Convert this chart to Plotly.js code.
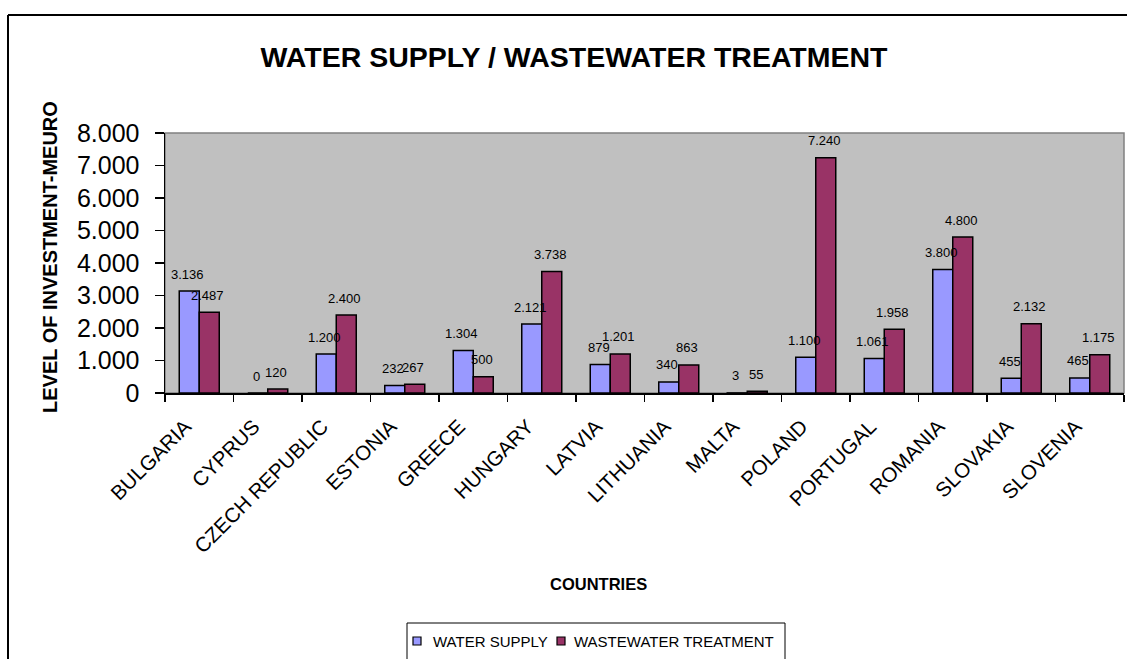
<!DOCTYPE html>
<html>
<head>
<meta charset="utf-8">
<script src="https://cdn.plot.ly/plotly-3.0.1.min.js"></script>
<style>
  html, body { margin: 0; padding: 0; background: #ffffff; }
  #chart { width: 1127px; height: 659px; }
</style>
</head>
<body>
<div id="chart"></div>
<script>
// Investment needs per country, MEURO
const countries = ['BULGARIA', 'CYPRUS', 'CZECH REPUBLIC', 'ESTONIA', 'GREECE', 'HUNGARY',
  'LATVIA', 'LITHUANIA', 'MALTA', 'POLAND', 'PORTUGAL', 'ROMANIA', 'SLOVAKIA', 'SLOVENIA'];
const waterSupply = [3136, 0, 1200, 232, 1304, 2121, 879, 340, 3, 1100, 1061, 3800, 455, 465];
const wastewater = [2487, 120, 2400, 267, 500, 3738, 1201, 863, 55, 7240, 1958, 4800, 2132, 1175];
const seriesNames = ['WATER SUPPLY', 'WASTEWATER TREATMENT'];
const seriesColors = ['#9999FF', '#993366'];
const yTicks = [0, 1000, 2000, 3000, 4000, 5000, 6000, 7000, 8000];

const FONT = 'Liberation Sans, Arial, sans-serif';
const W = 1127, H = 659;
const M = { l: 165, r: 3, t: 133, b: 266 };
const plotW = W - M.l - M.r, plotH = H - M.t - M.b;
const BARGAP = 0.416;

// pixel position -> paper coordinate
const px = x => (x - M.l) / plotW;
const py = y => (H - M.b - y) / plotH;

// "3136" -> "3.136"
const fmt = v => String(v).replace(/\B(?=(\d{3})+(?!\d))/g, '.');

const barW = plotW / countries.length * (1 - BARGAP) / 2;
const seriesValues = [waterSupply, wastewater];

const traces = seriesValues.map((vals, k) => ({
  type: 'bar',
  x: countries,
  y: vals,
  name: seriesNames[k],
  showlegend: false,
  marker: { color: seriesColors[k], line: { color: '#000000', width: 1.5 } },
  hoverinfo: 'x+y+name'
}));

const annotations = [];
seriesValues.forEach((vals, k) => {
  vals.forEach((v, i) => {
    annotations.push({
      x: countries[i], y: v, xref: 'x', yref: 'y',
      text: fmt(v), showarrow: false,
      xshift: (k === 0 ? -barW / 2 : barW / 2) - 1.5,
      yshift: 17, yanchor: 'middle', xanchor: 'center',
      font: { family: FONT, size: 13, color: '#000000' }
    });
  });
});

// axis titles
annotations.push({
  xref: 'paper', yref: 'paper', x: px(50), y: py(257),
  text: 'LEVEL OF INVESTMENT-MEURO', textangle: -90, showarrow: false,
  xanchor: 'center', yanchor: 'middle',
  font: { family: FONT, size: 20, weight: 'bold', color: '#000000' }
});
annotations.push({
  xref: 'paper', yref: 'paper', x: px(598), y: py(584),
  text: 'COUNTRIES', showarrow: false, xanchor: 'center', yanchor: 'middle',
  font: { family: FONT, size: 16.5, weight: 'bold', color: '#000000' }
});

const shapes = [
  // plot area frame
  { type: 'rect', xref: 'paper', yref: 'paper', x0: 0, x1: 1, y0: 0, y1: 1,
    line: { color: '#808080', width: 1.5 }, layer: 'below' },
  // outer chart frame
  { type: 'line', xref: 'paper', yref: 'paper', x0: px(8), x1: px(1300), y0: py(15), y1: py(15),
    line: { color: '#000000', width: 2 } },
  { type: 'line', xref: 'paper', yref: 'paper', x0: px(8), x1: px(8), y0: py(15), y1: py(800),
    line: { color: '#000000', width: 2 } },
  // legend box
  { type: 'rect', xref: 'paper', yref: 'paper', x0: px(407), x1: px(785), y0: py(623), y1: py(720),
    line: { color: '#000000', width: 1 }, fillcolor: '#ffffff' }
];

// legend entries: swatch + label
const legendItems = [{ sx: 413, tx: 431 }, { sx: 557, tx: 572 }];
legendItems.forEach((it, k) => {
  shapes.push({
    type: 'rect', xref: 'paper', yref: 'paper',
    x0: px(it.sx), x1: px(it.sx + 8), y0: py(637), y1: py(645),
    fillcolor: seriesColors[k], line: { color: '#000000', width: 1.2 }
  });
  annotations.push({
    xref: 'paper', yref: 'paper', x: px(it.tx), y: py(641),
    text: seriesNames[k], showarrow: false, xanchor: 'left', yanchor: 'middle',
    font: { family: FONT, size: 15, color: '#000000' }
  });
});

const layout = {
  width: W, height: H,
  margin: { l: M.l, r: M.r, t: M.t, b: M.b, pad: 0, autoexpand: false },
  paper_bgcolor: '#ffffff',
  plot_bgcolor: '#C0C0C0',
  separators: ',.',
  barmode: 'group',
  bargap: BARGAP,
  bargroupgap: 0,
  showlegend: false,
  font: { family: FONT, color: '#000000' },
  title: {
    text: 'WATER SUPPLY / WASTEWATER TREATMENT',
    xref: 'container', yref: 'container',
    x: 574 / W, y: 1 - 57 / H, xanchor: 'center', yanchor: 'middle',
    font: { family: FONT, size: 28.5, weight: 'bold', color: '#000000' }
  },
  xaxis: {
    type: 'category',
    tickangle: -45,
    tickson: 'boundaries',
    ticks: 'outside', ticklen: 7, tickwidth: 1.5, tickcolor: '#000000',
    showline: true, linecolor: '#000000', linewidth: 1.5,
    showgrid: false, zeroline: false,
    tickfont: { family: FONT, size: 20.5, color: '#000000' },
    ticklabelstandoff: 12,
    ticklabelshift: -14
  },
  yaxis: {
    range: [0, 8000],
    tickvals: yTicks,
    tickformat: ',d',
    ticks: 'outside', ticklen: 9, tickwidth: 1.5, tickcolor: '#000000',
    showline: true, linecolor: '#000000', linewidth: 1.5,
    showgrid: false, zeroline: false,
    tickfont: { family: FONT, size: 25, color: '#000000' },
    ticklabelstandoff: 10
  },
  annotations: annotations,
  shapes: shapes
};

Plotly.newPlot('chart', traces, layout, { displayModeBar: false, staticPlot: true });
</script>
</body>
</html>
